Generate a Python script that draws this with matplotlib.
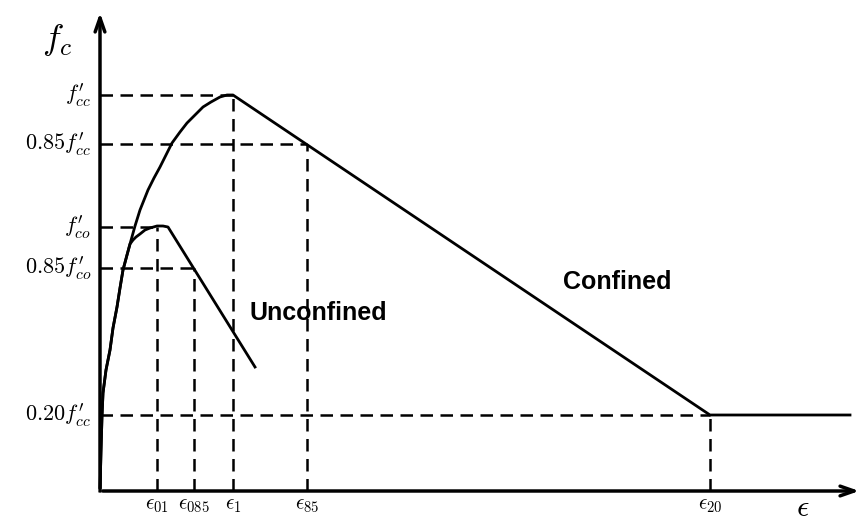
import matplotlib.pyplot as plt

plt.rcParams['mathtext.fontset'] = 'cm'

# 応力-ひずみ曲線 (図から読み取った値, 単位は任意)
conf_strain = [0, 1, 2, 3, 6, 10, 13, 17, 20, 23, 27, 30, 35, 40, 48, 54, 60, 66, 72,
               80, 87, 95, 103, 111, 120, 127, 133, 610, 750]
conf_stress = [0, 40, 75, 98, 121, 141, 163, 184, 203, 221, 236, 247, 265, 281, 301, 313,
               324, 336, 348, 359, 368, 376, 384, 389, 394, 396, 396, 76, 76]

unconf_strain = [0, 1, 2, 3, 6, 10, 13, 17, 20, 23, 27, 30, 33, 36, 40, 45, 50, 57, 63, 68, 155]
unconf_stress = [0, 40, 75, 98, 121, 141, 163, 184, 203, 221, 236, 247, 251, 254, 257,
                 261, 263, 265, 265, 264, 124]

# 目盛りの位置とラベル
y_levels = [396, 347, 264, 223, 76]
y_labels = [r"$f^{\prime}_{cc}$", r"$0.85f^{\prime}_{cc}$", r"$f^{\prime}_{co}$",
            r"$0.85f^{\prime}_{co}$", r"$0.20f^{\prime}_{cc}$"]
x_levels = [133, 207, 57, 94, 610]
x_labels = [r"$\epsilon_1$", r"$\epsilon_{85}$", r"$\epsilon_{01}$", r"$\epsilon_{085}$", r"$\epsilon_{20}$"]

fig = plt.figure(figsize=(8.63, 5.2), dpi=100)
ax = fig.add_axes([0, 0, 1, 1])
ax.set_xlim(-100, 763)
ax.set_ylim(-29, 491)
ax.axis("off")

# 破線 (横と縦)
dash = dict(color="black", lw=1.8, linestyle=(0, (5, 3)))
for xv, yv in zip(x_levels, y_levels):
    ax.plot([0, xv], [yv, yv], **dash)
    ax.plot([xv, xv], [0, yv], **dash)

# 曲線
ax.plot(conf_strain, conf_stress, color="black", lw=2, solid_joinstyle="round")
ax.plot(unconf_strain, unconf_stress, color="black", lw=2, solid_joinstyle="round")

# 軸 (矢印)
arrow = dict(arrowstyle="->,head_length=1.0,head_width=0.35", color="black", lw=2.5)
ax.annotate("", xy=(0, 481), xytext=(0, 0), arrowprops=arrow)
ax.annotate("", xy=(762, 0), xytext=(0, 0), arrowprops=arrow)

# ラベル
for yv, lab in zip(y_levels, y_labels):
    ax.text(-9, yv, lab, ha="right", va="center", fontsize=16)
for xv, lab in zip(x_levels, x_labels):
    ax.text(xv, -14, lab, ha="center", va="center", fontsize=15)

ax.text(-43, 451, r"$f_c$", ha="center", va="center", fontsize=26)
ax.text(703, -16, r"$\epsilon$", ha="center", va="center", fontsize=22)

ax.text(218, 178, "Unconfined", ha="center", va="center", fontsize=18,
        family="Liberation Sans", weight="bold")
ax.text(517, 209, "Confined", ha="center", va="center", fontsize=18,
        family="Liberation Sans", weight="bold")

plt.savefig("out.png", dpi=100)
